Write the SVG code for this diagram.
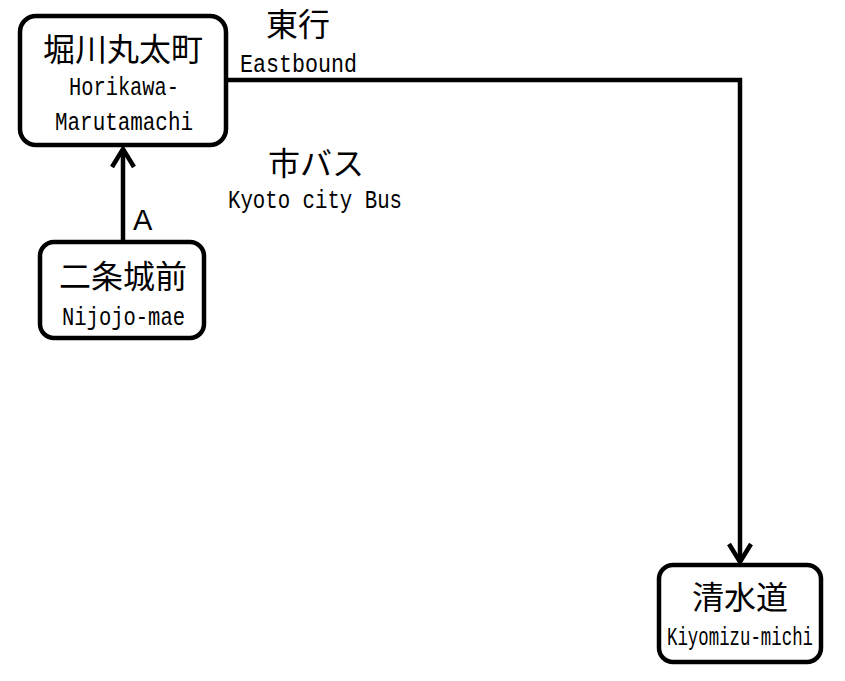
<svg xmlns="http://www.w3.org/2000/svg" width="845" height="681" viewBox="0 0 845 681">
<style>
.box{fill:#fff;stroke:#000;stroke-width:4.5}
.jp{font-family:"Noto Sans CJK JP","Noto Sans CJK SC",sans-serif;font-size:32px;fill:#000;text-anchor:middle}
.en{font-family:"Liberation Mono","DejaVu Sans Mono",monospace;font-size:26px;fill:#000}
.edge{fill:none;stroke:#000;stroke-width:4.5}
.lbl{font-family:"Liberation Sans",Arial,sans-serif;font-size:29px;fill:#000}
</style>
<defs>
<marker id="chev" markerUnits="userSpaceOnUse" markerWidth="30" markerHeight="30" refX="20" refY="15" orient="auto" viewBox="0 0 30 30">
<path d="M2,4 L20,15 L2,26" fill="none" stroke="#000" stroke-width="4.5"/>
</marker>
</defs>
<g id="connectors">
<path class="edge" d="M123,242 L123,149" marker-end="url(#chev)"/>
<path class="edge" d="M227,80 L740,80 L740,562" marker-end="url(#chev)"/>
<text class="jp" x="298" y="36">東行</text>
<text class="en" x="240" y="72" textLength="117" lengthAdjust="spacingAndGlyphs">Eastbound</text>
<text class="jp" x="316" y="175">市バス</text>
<text class="en" x="228" y="208" textLength="174" lengthAdjust="spacingAndGlyphs">Kyoto city Bus</text>
<text class="lbl" x="133" y="230">A</text>
</g>
<g id="node-horikawa">
<rect class="box" x="20" y="16" width="206" height="129" rx="16"/>
<text class="jp" x="123" y="61">堀川丸太町</text>
<text class="en" x="69" y="95" textLength="110" lengthAdjust="spacingAndGlyphs">Horikawa-</text>
<text class="en" x="55" y="130" textLength="138" lengthAdjust="spacingAndGlyphs">Marutamachi</text>
</g>
<g id="node-nijojo">
<rect class="box" x="40" y="242" width="164" height="96" rx="14"/>
<text class="jp" x="123" y="288">二条城前</text>
<text class="en" x="62" y="325" textLength="123" lengthAdjust="spacingAndGlyphs">Nijojo-mae</text>
</g>
<g id="node-kiyomizu">
<rect class="box" x="659" y="565" width="162" height="97" rx="14"/>
<text class="jp" x="740" y="609">清水道</text>
<text class="en" x="667" y="645" font-size="24" textLength="146" lengthAdjust="spacingAndGlyphs">Kiyomizu-michi</text>
</g>
</svg>
